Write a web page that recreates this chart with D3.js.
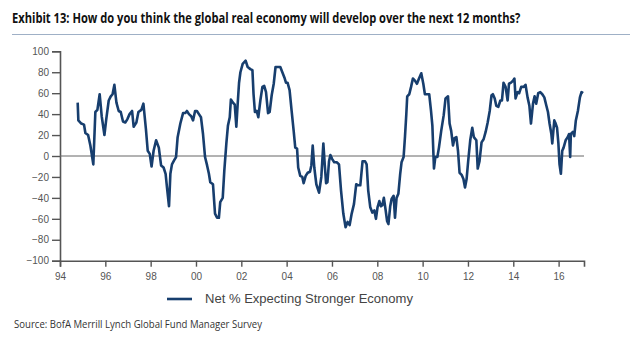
<!DOCTYPE html>
<html>
<head>
<meta charset="utf-8">
<script src="https://cdn.jsdelivr.net/npm/d3@7"></script>
<style>
  body { margin: 0; background: #fff; }
  svg { display: block; }
  .title { font-family: "Open Sans", "DejaVu Sans", sans-serif; font-weight: bold; font-size: 14px; fill: #111; }
  .axis text { font-family: "Liberation Sans", Arial, sans-serif; font-size: 10px; fill: #555; }
  .axis path, .axis line { stroke: #555; }
  .legend text { font-family: "Liberation Sans", Arial, sans-serif; font-size: 12px; fill: #444; }
  .source { font-family: "Open Sans", "DejaVu Sans", sans-serif; font-size: 10.5px; fill: #333; }
</style>
</head>
<body>
<svg id="chart"></svg>
<script>
'use strict';

var titleText = 'Exhibit 13: How do you think the global real economy will develop over the next 12 months?';
var seriesName = 'Net % Expecting Stronger Economy';
var sourceText = 'Source: BofA Merrill Lynch Global Fund Manager Survey';

// survey month as decimal year
var surveyDates = [
    1994.78, 1994.81, 1994.94, 1995.06, 1995.12, 1995.24, 1995.34, 1995.47, 1995.56, 1995.65,
    1995.75, 1995.84, 1995.96, 1996.04, 1996.15, 1996.24, 1996.32, 1996.40, 1996.49, 1996.59,
    1996.68, 1996.78, 1996.88, 1996.97, 1997.07, 1997.18, 1997.25, 1997.37, 1997.46, 1997.59,
    1997.68, 1997.79, 1997.87, 1997.96, 1998.04, 1998.13, 1998.24, 1998.36, 1998.46, 1998.57,
    1998.66, 1998.72, 1998.81, 1998.87, 1998.94, 1999.04, 1999.12, 1999.19, 1999.31, 1999.43,
    1999.53, 1999.60, 1999.69, 1999.79, 1999.87, 1999.96, 2000.04, 2000.13, 2000.22, 2000.31,
    2000.40, 2000.49, 2000.57, 2000.63, 2000.75, 2000.84, 2000.93, 2001.01, 2001.07, 2001.18,
    2001.25, 2001.34, 2001.41, 2001.49, 2001.54, 2001.63, 2001.71, 2001.78, 2001.84, 2001.90,
    2001.96, 2002.06, 2002.19, 2002.28, 2002.40, 2002.49, 2002.54, 2002.60, 2002.68, 2002.75,
    2002.84, 2002.93, 2003.01, 2003.09, 2003.18, 2003.25, 2003.34, 2003.43, 2003.51, 2003.60,
    2003.72, 2003.81, 2003.90, 2003.97, 2004.04, 2004.13, 2004.22, 2004.31, 2004.38, 2004.46,
    2004.51, 2004.60, 2004.69, 2004.75, 2004.84, 2004.93, 2005.03, 2005.09, 2005.15, 2005.22,
    2005.31, 2005.43, 2005.53, 2005.62, 2005.68, 2005.74, 2005.80, 2005.87, 2005.93, 2006.01,
    2006.10, 2006.21, 2006.31, 2006.40, 2006.50, 2006.60, 2006.69, 2006.78, 2006.87, 2006.97,
    2007.07, 2007.16, 2007.25, 2007.35, 2007.46, 2007.53, 2007.60, 2007.69, 2007.78, 2007.87,
    2007.94, 2008.01, 2008.09, 2008.16, 2008.22, 2008.29, 2008.37, 2008.43, 2008.49, 2008.57,
    2008.63, 2008.72, 2008.78, 2008.85, 2008.93, 2009.01, 2009.07, 2009.16, 2009.22, 2009.28,
    2009.32, 2009.41, 2009.49, 2009.57, 2009.66, 2009.75, 2009.84, 2009.94, 2010.03, 2010.10,
    2010.21, 2010.29, 2010.37, 2010.43, 2010.50, 2010.56, 2010.65, 2010.72, 2010.82, 2010.93,
    2011.01, 2011.12, 2011.19, 2011.26, 2011.34, 2011.41, 2011.49, 2011.56, 2011.63, 2011.72,
    2011.80, 2011.87, 2011.94, 2012.01, 2012.10, 2012.19, 2012.26, 2012.37, 2012.43, 2012.51,
    2012.60, 2012.69, 2012.78, 2012.87, 2012.96, 2013.04, 2013.10, 2013.18, 2013.25, 2013.34,
    2013.43, 2013.50, 2013.57, 2013.66, 2013.75, 2013.81, 2013.90, 2013.99, 2014.05, 2014.10,
    2014.19, 2014.26, 2014.35, 2014.46, 2014.54, 2014.63, 2014.71, 2014.78, 2014.87, 2014.94,
    2015.01, 2015.10, 2015.19, 2015.28, 2015.37, 2015.46, 2015.53, 2015.60, 2015.68, 2015.72,
    2015.81, 2015.87, 2015.93, 2015.99, 2016.04, 2016.10, 2016.16, 2016.22, 2016.31, 2016.40,
    2016.46, 2016.51, 2016.54, 2016.63, 2016.69, 2016.76, 2016.85, 2016.94, 2017.01, 2017.08
];

// net % of fund managers expecting a stronger economy
var netPct = [
    51, 34, 31, 30, 22, 20, 10, -8, 42, 44,
    59, 38, 20, 35, 53, 57, 59, 68, 51, 43,
    42, 33, 32, 35, 40, 43, 28, 32, 42, 44,
    50, 26, 5, 2, -10, 5, 15, 8, -9, -11,
    -17, -30, -48, -17, -8, -4, -1, 18, 31, 41,
    41, 43, 40, 38, 34, 43, 43, 40, 37, 21,
    -1, -9, -17, -25, -27, -55, -59, -59, -44, -40,
    -14, 12, 29, 37, 54, 51, 49, 28, 50, 70,
    80, 88, 91, 85, 83, 82, 59, 42, 43, 37,
    53, 66, 67, 61, 41, 42, 58, 69, 85, 85,
    85, 80, 75, 70, 70, 63, 43, 24, 8, 7,
    -11, -19, -20, -26, -19, -16, -15, -9, 10, -11,
    -27, -35, -20, 12, -8, -26, -25, -5, 1, -3,
    -6, -6, -8, -33, -55, -68, -63, -66, -55, -46,
    -27, -28, -28, -5, -5, -8, -33, -49, -54, -52,
    -60, -49, -43, -48, -47, -40, -52, -62, -65, -48,
    -41, -38, -59, -40, -36, -17, -6, -1, 18, 40,
    57, 59, 66, 74, 72, 69, 74, 79, 69, 59,
    59, 59, 43, 29, -12, -1, -1, 8, 24, 39,
    55, 57, 31, 24, 10, 17, 18, 5, -16, -18,
    -22, -30, -22, -5, 15, 27, 18, 15, -12, -5,
    13, 16, 23, 32, 43, 58, 59, 55, 48, 47,
    53, 53, 70, 66, 53, 69, 70, 72, 74, 55,
    61, 60, 66, 66, 68, 56, 48, 31, 50, 57,
    50, 60, 61, 59, 56, 48, 42, 31, 21, 12,
    34, 31, 27, 12, -8, -17, 5, 8, 15, 18,
    21, -1, 21, 23, 19, 34, 43, 56, 61, 60
];

var yTicks = [-100, -80, -60, -40, -20, 0, 20, 40, 60, 80, 100];
var xTickYears = [1994, 1996, 1998, 2000, 2002, 2004, 2006, 2008, 2010, 2012, 2014, 2016];

var W = 640, H = 344;
var plot = { left: 60, right: 584, top: 51.3, bottom: 260.7 };

var svg = d3.select('#chart').attr('width', W).attr('height', H);

var x = d3.scaleLinear().domain([1994, 2017.12]).range([plot.left, plot.right]);
var y = d3.scaleLinear().domain([-100, 100]).range([plot.bottom, plot.top]);

// squeeze a text into a fixed width (the house fonts are condensed)
function fitWidth(sel, w) {
    sel.attr('textLength', w).attr('lengthAdjust', 'spacingAndGlyphs');
}

// header: title is narrowed with a horizontal scale
var titleG = svg.append('g');
var title = titleG.append('text').attr('class', 'title').attr('x', 0).attr('y', 0).text(titleText);
var sx = 509 / title.node().getComputedTextLength();
titleG.attr('transform', 'translate(12,23) scale(' + sx + ',1)');

svg.append('line')
    .attr('x1', 12).attr('x2', 630).attr('y1', 34.5).attr('y2', 34.5)
    .attr('stroke', '#9fb0c6').attr('stroke-width', 1);

// axes
svg.append('g').attr('class', 'axis')
    .attr('transform', 'translate(' + plot.left + ',0)')
    .call(d3.axisLeft(y).tickValues(yTicks).tickSize(8).tickPadding(3).tickFormat(d3.format('d')));

svg.append('g').attr('class', 'axis')
    .attr('transform', 'translate(0,' + plot.bottom + ')')
    .call(d3.axisBottom(x).tickValues(xTickYears).tickSize(6).tickPadding(6)
        .tickFormat(function (d) { return String(d).slice(2); }));

svg.selectAll('.axis .domain').attr('stroke-width', 1.6);
svg.selectAll('.axis .tick line').attr('stroke-width', 1.4);

// zero line
svg.append('line')
    .attr('x1', plot.left).attr('x2', plot.right)
    .attr('y1', y(0)).attr('y2', y(0))
    .attr('stroke', '#666').attr('stroke-width', 1);

// series
var points = surveyDates.map(function (d, i) { return [d, netPct[i]]; });
var line = d3.line()
    .x(function (d) { return x(d[0]); })
    .y(function (d) { return y(d[1]); });

svg.append('path')
    .datum(points)
    .attr('d', line)
    .attr('fill', 'none')
    .attr('stroke', '#173e6e')
    .attr('stroke-width', 2.6)
    .attr('stroke-linejoin', 'round');

// legend
var legend = svg.append('g').attr('class', 'legend').attr('transform', 'translate(167,299)');
legend.append('line').attr('x1', 0).attr('x2', 25).attr('y1', 0).attr('y2', 0)
    .attr('stroke', '#173e6e').attr('stroke-width', 2.6);
legend.append('text').attr('x', 38).attr('y', 4).text(seriesName).call(fitWidth, 208);

// footer
svg.append('text').attr('class', 'source').attr('x', 14).attr('y', 328).text(sourceText)
    .call(fitWidth, 248);
</script>
</body>
</html>
